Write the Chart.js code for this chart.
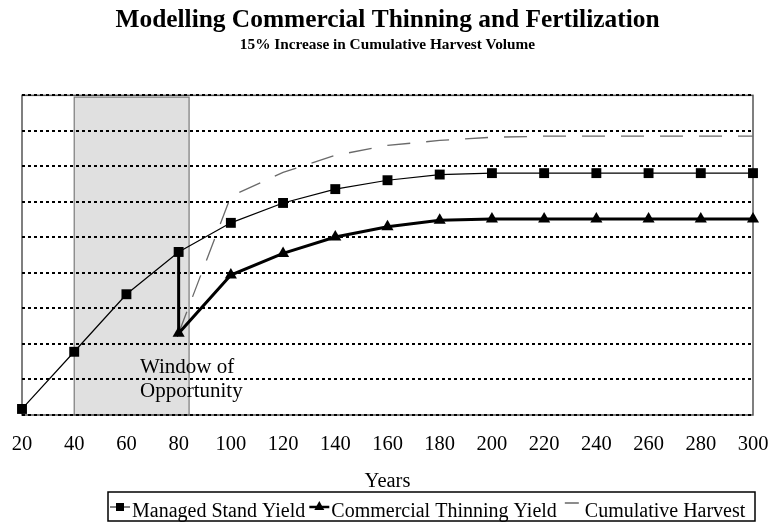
<!DOCTYPE html>
<html>
<head>
<meta charset="utf-8">
<script src="https://cdn.jsdelivr.net/npm/chart.js"></script>
<style>
  html, body { margin: 0; padding: 0; background: #fff; }
  #wrap { width: 772px; height: 525px; }
</style>
</head>
<body>
<div id="wrap"><canvas id="myChart" width="772" height="525"></canvas></div>
<script>
// values (y axis is unlabelled, one unit = one grid line)
const years = [20, 40, 60, 80, 100, 120, 140, 160, 180, 200, 220, 240, 260, 280, 300];
const managedYield = [0.17, 1.78, 3.40, 4.59, 5.41, 5.97, 6.36, 6.61, 6.77, 6.81, 6.81, 6.81, 6.81, 6.81, 6.81];

const thinYears = [80, 100, 120, 140, 160, 180, 200, 220, 240, 260, 280, 300];
const thinningYield = [2.30, 3.94, 4.55, 5.01, 5.30, 5.48, 5.52, 5.52, 5.52, 5.52, 5.52, 5.52];
const cumulativeHarvest = [2.30, 6.16, 6.83, 7.31, 7.59, 7.73, 7.82, 7.85, 7.85, 7.85, 7.85, 7.85];

const xTicks = [20, 40, 60, 80, 100, 120, 140, 160, 180, 200, 220, 240, 260, 280, 300];
const seriesNames = ['Managed Stand Yield', 'Commercial Thinning Yield', 'Cumulative Harvest'];

const windowStart = 40, windowEnd = 84, windowTop = 8.95;
const windowLabel = ['Window of', 'Opportunity'];

const SERIF = '"Liberation Serif", "Times New Roman", serif';
Chart.defaults.font.family = SERIF;
Chart.defaults.color = '#000';

// thinning drops straight down from the managed curve at the thinning age
const thinStart = { x: thinYears[0], y: managedYield[years.indexOf(thinYears[0])] };
const thinData = [thinStart].concat(thinYears.map((x, i) => ({ x, y: thinningYield[i] })));

// grey box + frame behind everything
const windowBox = {
  id: 'windowBox',
  beforeDraw(chart) {
    const { ctx, chartArea, scales: { x, y } } = chart;
    ctx.save();
    const l = x.getPixelForValue(windowStart), r = x.getPixelForValue(windowEnd);
    const t = y.getPixelForValue(windowTop), b = y.getPixelForValue(0);
    ctx.fillStyle = '#e0e0e0';
    ctx.fillRect(l, t, r - l, b - t);
    ctx.strokeStyle = '#7a7a7a';
    ctx.lineWidth = 1.2;
    ctx.strokeRect(l, t, r - l, b - t);
    ctx.strokeStyle = '#555';
    ctx.lineWidth = 1.5;
    ctx.strokeRect(chartArea.left, chartArea.top, chartArea.right - chartArea.left, chartArea.bottom - chartArea.top);
    ctx.restore();
  },
  afterDatasetsDraw(chart) {
    const { ctx, scales: { x, y } } = chart;
    ctx.save();
    ctx.font = '21px ' + SERIF;
    ctx.fillStyle = '#000';
    ctx.textAlign = 'left';
    ctx.textBaseline = 'alphabetic';
    const px = x.getPixelForValue(65.2), py = y.getPixelForValue(1.18);
    windowLabel.forEach((s, i) => ctx.fillText(s, px, py + i * 24));
    ctx.restore();
  }
};

// boxed legend along the bottom, markers drawn like the original
const boxLegend = {
  id: 'boxLegend',
  afterDraw(chart) {
    const ctx = chart.ctx;
    ctx.save();
    ctx.strokeStyle = '#000';
    ctx.lineWidth = 1.5;
    ctx.strokeRect(108, 492, 647, 29);
    ctx.font = '20px ' + SERIF;
    ctx.fillStyle = '#000';
    ctx.textBaseline = 'alphabetic';
    let x = 110;
    const y = 507;
    chart.data.datasets.forEach((ds, i) => {
      ctx.beginPath();
      if (i === 2) {
        ctx.strokeStyle = '#666';
        ctx.lineWidth = 1.5;
        ctx.moveTo(x + 2, y - 4);
        ctx.lineTo(x + 16, y - 4);
        ctx.stroke();
      } else {
        ctx.strokeStyle = '#000';
        ctx.lineWidth = i === 0 ? 1 : 2.5;
        ctx.moveTo(x, y);
        ctx.lineTo(x + 20, y);
        ctx.stroke();
        ctx.beginPath();
        if (i === 0) {
          ctx.rect(x + 6, y - 4, 8, 8);
        } else {
          ctx.moveTo(x + 10, y - 6);
          ctx.lineTo(x + 15, y + 3);
          ctx.lineTo(x + 5, y + 3);
          ctx.closePath();
        }
        ctx.fill();
      }
      const tx = x + 22;
      ctx.fillText(ds.label, tx, y + 10);
      x = tx + ctx.measureText(ds.label).width + (i === 1 ? 6 : 4);
    });
    ctx.restore();
  }
};

new Chart(document.getElementById('myChart'), {
  type: 'line',
  data: {
    datasets: [
      {
        label: seriesNames[0],
        data: years.map((x, i) => ({ x, y: managedYield[i] })),
        borderColor: '#000',
        backgroundColor: '#000',
        borderWidth: 1.2,
        pointStyle: 'rect',
        pointRadius: 7,
        pointBorderWidth: 0,
        tension: 0,
        clip: false
      },
      {
        label: seriesNames[1],
        data: thinData,
        borderColor: '#000',
        backgroundColor: '#000',
        borderWidth: 3,
        pointStyle: 'triangle',
        pointRadius: thinData.map((p, i) => (i === 0 ? 0 : 7)),
        pointBorderWidth: 0,
        tension: 0,
        clip: false
      },
      {
        label: seriesNames[2],
        data: thinYears.map((x, i) => ({ x, y: cumulativeHarvest[i] })),
        borderColor: '#6a6a6a',
        borderWidth: 1.3,
        borderDash: [23, 16],
        pointRadius: 0,
        tension: 0,
        clip: false
      }
    ]
  },
  options: {
    responsive: false,
    animation: false,
    devicePixelRatio: 1,
    layout: { padding: { left: 22, right: 19, top: 0, bottom: 35 } },
    plugins: {
      legend: { display: false },
      tooltip: { enabled: false },
      title: {
        display: true,
        text: 'Modelling Commercial Thinning and Fertilization',
        font: { size: 25.4, weight: 'bold', family: SERIF },
        color: '#000',
        padding: { top: 5, bottom: 0 }
      },
      subtitle: {
        display: true,
        text: '15% Increase in Cumulative Harvest Volume',
        font: { size: 15.3, weight: 'bold', family: SERIF },
        color: '#000',
        padding: { top: 0, bottom: 41.5 }
      }
    },
    scales: {
      x: {
        type: 'linear',
        min: 20,
        max: 300,
        afterBuildTicks: s => { s.ticks = xTicks.map(v => ({ value: v })); },
        afterFit: s => { s.height = 75; s.paddingLeft = 0; s.paddingRight = 0; },
        grid: { display: false, drawTicks: false },
        border: { display: false },
        ticks: { font: { size: 20.5, family: SERIF }, color: '#000', padding: 17, maxRotation: 0 },
        title: { display: true, text: 'Years', font: { size: 20.5, family: SERIF }, color: '#000', padding: { top: 4, bottom: -4 } }
      },
      y: {
        min: 0,
        max: 9,
        afterFit: s => { s.width = 0; s.paddingTop = 0; s.paddingBottom = 0; },
        ticks: { display: false, stepSize: 1 },
        grid: { color: '#000', lineWidth: 2, drawTicks: false },
        border: { display: false, dash: [3, 3] }
      }
    }
  },
  plugins: [windowBox, boxLegend]
});
</script>
</body>
</html>
